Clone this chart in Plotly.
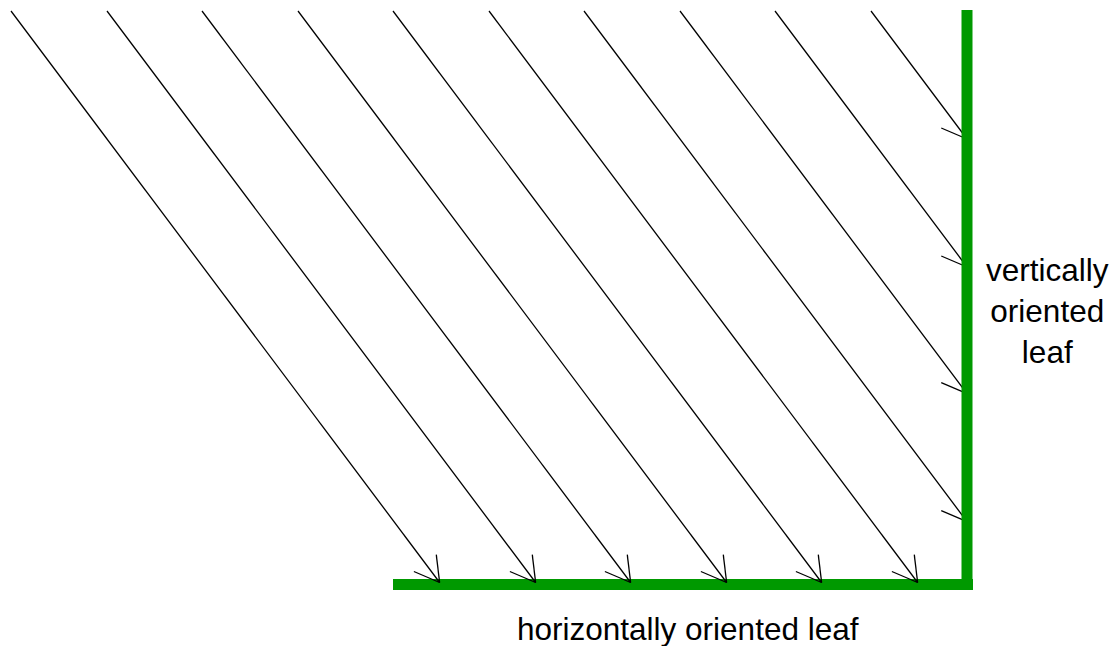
import math
import plotly.graph_objects as go

# ---- data (page units, y grows downward) ----
ray_start_x = [11, 107, 202, 298, 393, 489, 584, 680, 775, 871]
ray_start_y = 11
ray_direction = (3, 4)          # light travels 3 right for every 4 down
horiz_leaf_x = [393, 973]
horiz_leaf_y = 584.5
vert_leaf_x = 967
vert_leaf_y = [10, 590]
leaf_thickness = 11
labels = {"vertical": "vertically<br>oriented<br>leaf",
          "horizontal": "horizontally oriented leaf"}

W, H = 1119, 646
GREEN = "#009900"
head_len, head_ang = 28, math.radians(30)

dx, dy = ray_direction
norm = math.hypot(dx, dy)
ux, uy = dx / norm, dy / norm

shaft_x, shaft_y, barb_x, barb_y = [], [], [], []
for sx in ray_start_x:
    # where does the ray meet a leaf first?
    t_h = (horiz_leaf_y - 2 - ray_start_y) / uy
    t_v = (vert_leaf_x - sx) / ux
    t = min(t_h, t_v)
    ex, ey = sx + ux * t, ray_start_y + uy * t
    shaft_x += [sx, ex, None]
    shaft_y += [ray_start_y, ey, None]
    back = math.atan2(-uy, -ux)
    for s in (-1, 1):
        a = back + s * head_ang
        barb_x += [ex, ex + head_len * math.cos(a), None]
        barb_y += [ey, ey + head_len * math.sin(a), None]

fig = go.Figure()
fig.add_trace(go.Scatter(x=shaft_x, y=shaft_y, mode="lines",
                         line=dict(color="black", width=1.3), hoverinfo="skip"))
fig.add_trace(go.Scatter(x=barb_x, y=barb_y, mode="lines",
                         line=dict(color="black", width=1.3), hoverinfo="skip"))

half = leaf_thickness / 2
fig.add_shape(type="rect", layer="below", line_width=0, fillcolor=GREEN,
              x0=horiz_leaf_x[0], x1=horiz_leaf_x[1],
              y0=horiz_leaf_y - half, y1=horiz_leaf_y + half)
fig.add_shape(type="rect", layer="above", line_width=0, fillcolor=GREEN,
              x0=vert_leaf_x - half, x1=vert_leaf_x + half,
              y0=vert_leaf_y[0], y1=vert_leaf_y[1])

font = dict(family="Arial, Liberation Sans, sans-serif", size=31.5, color="black")
fig.add_annotation(x=1047.5, y=311, text=labels["vertical"], showarrow=False,
                   font=font, align="center", xanchor="center", yanchor="middle")
fig.add_annotation(x=687.5, y=628.5, text=labels["horizontal"], showarrow=False,
                   font=font, xanchor="center", yanchor="middle", borderpad=0)

fig.update_layout(width=W, height=H, margin=dict(l=0, r=0, t=0, b=0),
                  paper_bgcolor="white", plot_bgcolor="white", showlegend=False,
                  xaxis=dict(range=[0, W], visible=False, fixedrange=True),
                  yaxis=dict(range=[H, 0], visible=False, fixedrange=True))
fig.write_html("out.html", config={"displayModeBar": False},
               post_script="document.body.style.margin='0';document.body.style.overflow='hidden';")
